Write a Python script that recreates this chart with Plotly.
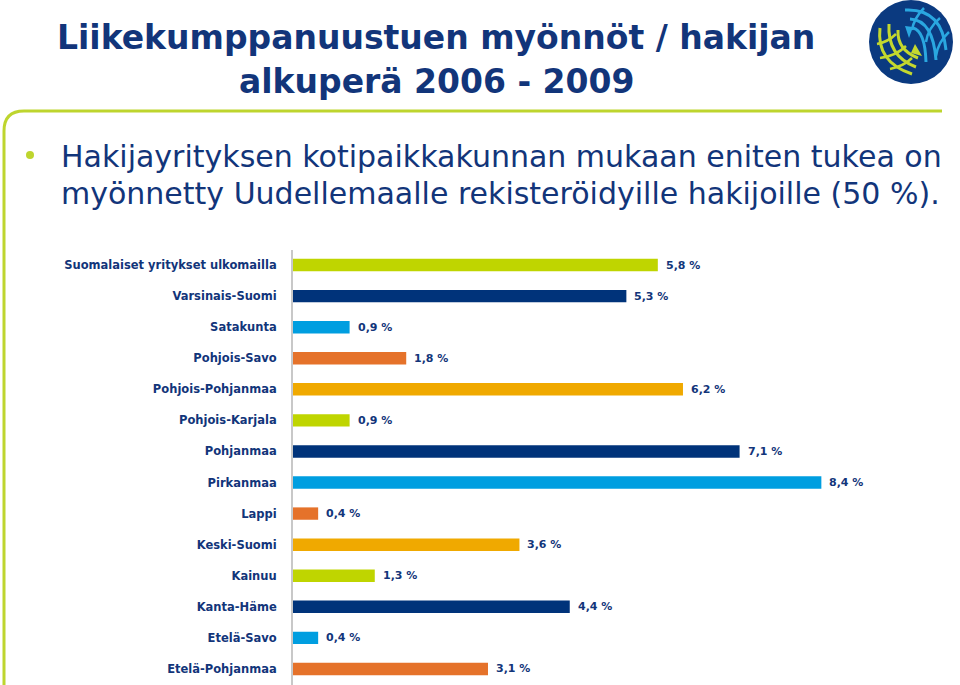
import plotly.graph_objects as go

# data
regions = ["Suomalaiset yritykset ulkomailla", "Varsinais-Suomi", "Satakunta",
           "Pohjois-Savo", "Pohjois-Pohjanmaa", "Pohjois-Karjala", "Pohjanmaa",
           "Pirkanmaa", "Lappi", "Keski-Suomi", "Kainuu", "Kanta-Häme",
           "Etelä-Savo", "Etelä-Pohjanmaa"]
shares = [5.8, 5.3, 0.9, 1.8, 6.2, 0.9, 7.1, 8.4, 0.4, 3.6, 1.3, 4.4, 0.4, 3.1]

palette = ["#bfd500", "#00337a", "#009ee0", "#e5722a", "#f0a900"]
bar_colors = [palette[i % len(palette)] for i in range(len(regions))]

navy = "#12357a"
green = "#bed52e"
W, H = 960, 685


def px(x):
    return x / W


def py(y):
    return 1 - y / H


fig = go.Figure()
fig.add_trace(go.Bar(x=shares, y=regions, orientation="h",
                     marker=dict(color=bar_colors, line_width=0),
                     width=0.4, hoverinfo="skip"))

for r, v in zip(regions, shares):
    fig.add_annotation(x=v, y=r, xref="x", yref="y", xanchor="left", xshift=6,
                       text=f"{v:.1f}".replace(".", ",") + " %", showarrow=False,
                       font=dict(family="DejaVu Sans", size=11, color=navy, weight="bold"))

# title and bullet text
fig.add_annotation(x=px(436), y=py(37), xref="paper", yref="paper", showarrow=False,
                   yanchor="middle", text="<b>Liikekumppanuustuen myönnöt / hakijan</b>",
                   font=dict(family="DejaVu Sans", size=33, color=navy))
fig.add_annotation(x=px(436), y=py(81), xref="paper", yref="paper", showarrow=False,
                   yanchor="middle", text="<b>alkuperä 2006 - 2009</b>",
                   font=dict(family="DejaVu Sans", size=33, color=navy))
for yy, line in [(156, "Hakijayrityksen kotipaikkakunnan mukaan eniten tukea on"),
                 (193, "myönnetty Uudellemaalle rekisteröidyille hakijoille (50 %).")]:
    fig.add_annotation(x=px(59), y=py(yy), xref="paper", yref="paper", showarrow=False,
                       xanchor="left", yanchor="middle", text=line,
                       font=dict(family="DejaVu Sans", size=30, color=navy))

shapes = []
# bullet dot
shapes.append(dict(type="circle", xref="paper", yref="paper",
                   x0=px(26), x1=px(34), y0=py(151), y1=py(159),
                   fillcolor=green, line_width=0))
# green frame with rounded corner
frame = (f"M {px(4)},{py(H)} L {px(4)},{py(131)} Q {px(4)},{py(111)} {px(24)},{py(111)} "
         f"L {px(942)},{py(111)}")
shapes.append(dict(type="path", xref="paper", yref="paper", path=frame,
                   line=dict(color=green, width=3)))

# logo, simplified globe
cx, cy, rr = 911, 42, 42
shapes.append(dict(type="circle", xref="paper", yref="paper",
                   x0=px(cx - rr), x1=px(cx + rr), y0=py(cy + rr), y1=py(cy - rr),
                   fillcolor="#0b3a80", line_width=0))


def curve(p0, c, p1, color, w=3):
    return dict(type="path", xref="paper", yref="paper",
                path=f"M {px(p0[0])},{py(p0[1])} Q {px(c[0])},{py(c[1])} {px(p1[0])},{py(p1[1])}",
                line=dict(color=color, width=w))


lime = "#c4d82e"
sky = "#2aa7e0"
# green meridians sweeping from upper left to lower right
for p0, c, p1 in [((880, 28), (876, 62), (912, 74)), ((889, 24), (887, 56), (916, 67)),
                  ((898, 30), (897, 50), (918, 58))]:
    shapes.append(curve(p0, c, p1, lime))
for p0, c, p1 in [((877, 44), (888, 42), (896, 34)), ((880, 58), (896, 56), (906, 46)),
                  ((890, 69), (904, 66), (912, 58))]:
    shapes.append(curve(p0, c, p1, lime, 2.5))
# green arrow tip
shapes.append(dict(type="path", xref="paper", yref="paper",
                   path=f"M {px(915)},{py(44)} L {px(922)},{py(56)} L {px(911)},{py(53)} Z",
                   fillcolor=lime, line_width=0))
# light blue meridians in the upper right
for p0, c, p1 in [((905, 10), (942, 8), (946, 50)), ((910, 19), (933, 20), (936, 60)),
                  ((913, 28), (925, 31), (926, 62))]:
    shapes.append(curve(p0, c, p1, sky))
for p0, c, p1 in [((924, 8), (914, 18), (912, 30)), ((940, 18), (928, 28), (926, 42)),
                  ((949, 32), (938, 42), (936, 56))]:
    shapes.append(curve(p0, c, p1, sky, 2.5))
shapes.append(dict(type="path", xref="paper", yref="paper",
                   path=f"M {px(905)},{py(26)} L {px(909)},{py(38)} L {px(913)},{py(27)} Z",
                   fillcolor=sky, line_width=0))

fig.update_layout(
    width=W, height=H,
    margin=dict(l=0, r=0, t=0, b=0),
    paper_bgcolor="white", plot_bgcolor="white",
    showlegend=False,
    shapes=shapes,
    xaxis=dict(domain=[px(293), px(922)], range=[0, 10], visible=False),
    yaxis=dict(domain=[0.5 / H, 1 - 249.5 / H], autorange="reversed",
               showline=True, linecolor="#c8c8c8", linewidth=2, ticks="",
               ticklabelstandoff=12, showgrid=False,
               tickfont=dict(family="DejaVu Sans", size=11.5, color=navy, weight="bold")),
)

# the page's default body margin would push the figure 8px off the window
fig.write_html("out.html", config={"displayModeBar": False},
               post_script="document.body.style.margin='0';")
